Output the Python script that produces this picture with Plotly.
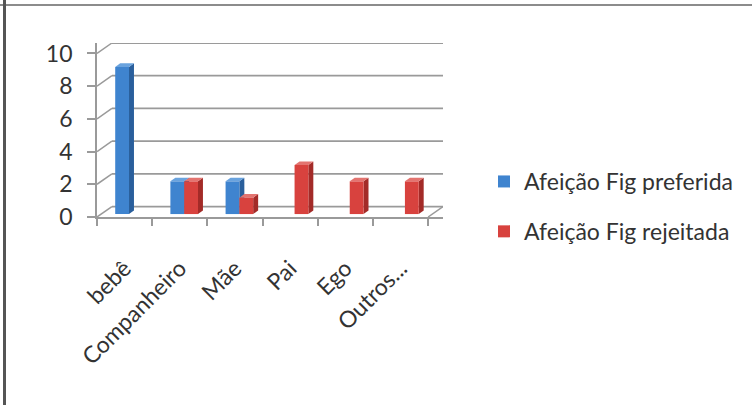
import plotly.graph_objects as go

# --- data -------------------------------------------------------------
categories = ["bebê", "Companheiro", "Mãe", "Pai", "Ego", "Outros..."]
preferida = [9, 2, 2, 0, 0, 0]
rejeitada = [0, 2, 1, 3, 2, 2]
series_names = ["Afeição Fig preferida", "Afeição Fig rejeitada"]
y_ticks = [0, 2, 4, 6, 8, 10]

# --- geometry of the pseudo-3D box (data units) -----------------------
W, H = 752, 405
ML, MR, MT, MB = 97, 309, 43, 188
DX, DY = 0.27, 0.64        # depth of the back wall
BW = 0.25                  # bar width
DX0, DY0 = 0.08, 0.18      # bars sit mid-depth
DDX, DDY = 0.09, 0.22      # bar depth (side / top faces)

FONT = "Lato"
TXT = "#333333"
GRID = "#9a9a9a"
FS = 23

palette = [
    dict(front="#3f84cf", side="#2a5f9c", top="#6aa3de"),
    dict(front="#d8423e", side="#a32b28", top="#e37470"),
]

fig = go.Figure()


def poly(xs, ys, color):
    fig.add_trace(go.Scatter(
        x=xs + [xs[0]], y=ys + [ys[0]], xaxis="x", yaxis="y",
        mode="lines", fill="toself", fillcolor=color,
        line=dict(width=0, color=color), hoverinfo="skip", showlegend=False))


# side and top faces, painted left to right
for i in range(len(categories)):
    for s, vals in enumerate([preferida, rejeitada]):
        v = vals[i]
        if v <= 0:
            continue
        off = -BW + DX0 if s == 0 else DX0
        x0, x1 = i + off, i + off + BW
        y0, y1 = DY0, DY0 + v
        c = palette[s]
        poly([x1, x1 + DDX, x1 + DDX, x1], [y0, y0 + DDY, y1 + DDY, y1], c["side"])
        poly([x0, x1, x1 + DDX, x0 + DDX], [y1, y1, y1 + DDY, y1 + DDY], c["top"])

# front faces as real bars on the category axis
for s, vals in enumerate([preferida, rejeitada]):
    fig.add_trace(go.Bar(
        x=categories, y=vals, base=DY0, width=BW,
        offset=(-BW + DX0) if s == 0 else DX0,
        xaxis="x2", yaxis="y", name=series_names[s],
        legendgroup=f"g{s}",
        marker=dict(color=palette[s]["front"], line=dict(width=0)),
        hoverinfo="skip"))

# back wall gridlines and the left / right depth edges
shapes = []
x_lo, x_hi = -0.5, len(categories) - 0.5
for v in y_ticks:
    shapes.append(dict(type="line", xref="x", yref="y", layer="below",
                       x0=x_lo + DX, x1=x_hi + DX, y0=v + DY, y1=v + DY,
                       line=dict(color=GRID, width=1.8)))
    shapes.append(dict(type="line", xref="x", yref="y", layer="below",
                       x0=x_lo, x1=x_lo + DX, y0=v, y1=v + DY,
                       line=dict(color=GRID, width=1.5)))
shapes.append(dict(type="line", xref="x", yref="y", layer="below",
                   x0=x_hi, x1=x_hi + DX, y0=0, y1=DY,
                   line=dict(color=GRID, width=1.5)))

# outer frame (top and left edges)
pw, ph = W - ML - MR, H - MT - MB


def px_x(p):
    return (p - ML) / pw


def px_y(p):
    return (H - MB - p) / ph


shapes.append(dict(type="line", xref="paper", yref="paper",
                   x0=px_x(0), x1=px_x(W), y0=px_y(5), y1=px_y(5),
                   line=dict(color="#8c8c8c", width=2)))
shapes.append(dict(type="line", xref="paper", yref="paper",
                   x0=px_x(4.5), x1=px_x(4.5), y0=px_y(0), y1=px_y(H),
                   line=dict(color="#555555", width=3)))

x_range = [x_lo, x_hi + DX]
fig.update_layout(
    width=W, height=H,
    margin=dict(l=ML, r=MR, t=MT, b=MB, autoexpand=False),
    paper_bgcolor="white", plot_bgcolor="white",
    barmode="overlay",
    shapes=shapes,
    font=dict(family=FONT, color=TXT, size=FS),
    xaxis=dict(type="linear", range=x_range, visible=False, fixedrange=True),
    xaxis2=dict(type="category", overlaying="x", anchor="y", range=x_range,
                showgrid=False, zeroline=False, showline=True,
                linecolor=GRID, linewidth=1.8,
                ticks="outside", tickson="boundaries", ticklen=7,
                tickcolor=GRID, tickwidth=1.5,
                tickangle=-45, ticklabelstandoff=27,
                tickfont=dict(family=FONT, size=FS, color=TXT)),
    yaxis=dict(range=[0, y_ticks[-1] + DY], tickvals=y_ticks,
               showgrid=False, zeroline=False, showline=True,
               linecolor=GRID, linewidth=1.8,
               ticks="outside", ticklen=8, tickcolor=GRID, tickwidth=1.5,
               ticklabelstandoff=10,
               tickfont=dict(family=FONT, size=FS, color=TXT)),
    legend=dict(x=px_x(484), y=px_y(160), xanchor="left", yanchor="top",
                font=dict(family=FONT, size=FS, color=TXT),
                tracegroupgap=17, bgcolor="rgba(0,0,0,0)"),
    showlegend=True,
)

fig.write_html("out.html")
